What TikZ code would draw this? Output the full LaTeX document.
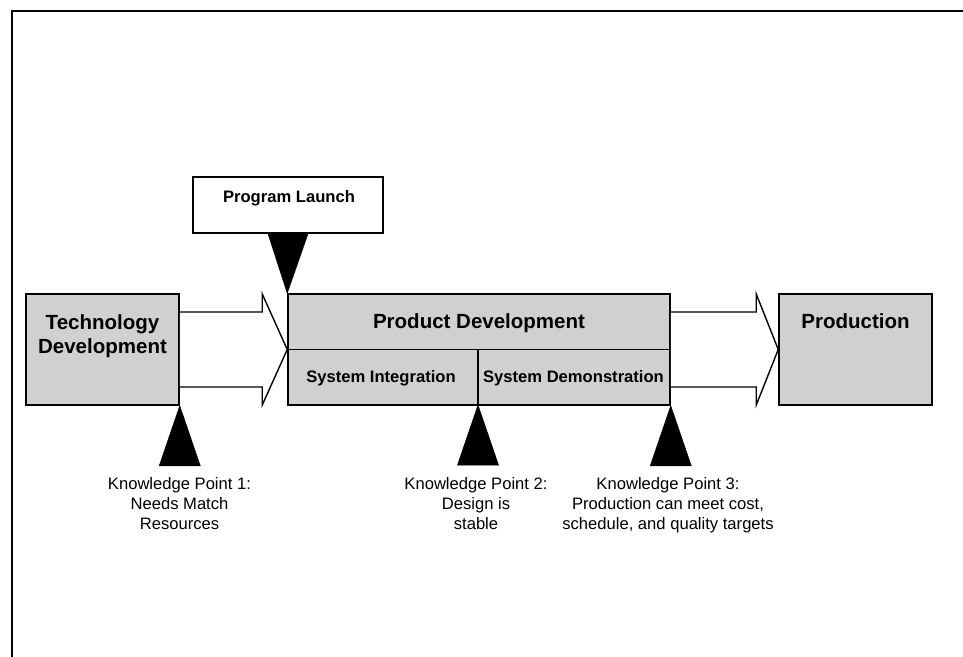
\documentclass[tikz,border=0pt]{standalone}
\usepackage{fontspec}
\setmainfont{Liberation Sans}
\usetikzlibrary{calc}
\definecolor{boxgray}{RGB}{208,208,208}
\begin{document}
\begin{tikzpicture}[x=1pt,y=-1pt,
  box/.style={draw=black,line width=1.5pt,fill=boxgray,rectangle,inner sep=0pt},
  bigtxt/.style={font=\fontsize{20.5}{24}\selectfont\bfseries,align=center,inner sep=0pt,anchor=north},
  smalltxt/.style={font=\fontsize{16.6}{19.5}\selectfont\bfseries,inner sep=0pt,anchor=base},
  kptxt/.style={font=\fontsize{16.6}{20}\selectfont,align=center,inner sep=0pt,anchor=north},
  blockarrow/.style={draw=black,line width=1.4pt,fill=white,line join=miter},
  tri/.style={fill=black,draw=black,line width=0.5pt}]
\useasboundingbox (0,0) rectangle (963,656);
% frame
\draw[line width=2pt] (12,660) -- (12,11) -- (966,11);
% boxes
\node[box,minimum width=153pt,minimum height=111pt] (tech) at (102.5,349.5) {};
\node[box,minimum width=382pt,minimum height=111pt] (pd) at (479,349.5) {};
\node[box,minimum width=153pt,minimum height=111pt] (prod) at (855.5,349.5) {};
\node[draw=black,line width=1.5pt,fill=white,rectangle,inner sep=0pt,minimum width=190pt,minimum height=56pt] (pl) at (288,205) {};
% divider lines in product development
\coordinate (divL) at (pd.west);
\coordinate (divR) at (pd.east);
\draw[line width=1.6pt] (divL) -- (divR);
\coordinate (sepT) at (478,349.5);
\coordinate (sepB) at (478,405);
\draw[line width=1.6pt] (sepT) -- (sepB);
% texts
\node[bigtxt] (techtxt) at (102.5,314) {Technology\\Development};
\node[bigtxt] (pdtxt) at (479,313) {Product Development};
\node[bigtxt] (prodtxt) at (855.5,313) {Production};
\node[smalltxt] (sitxt) at (381,382) {System Integration};
\node[smalltxt] (sdtxt) at (573.5,382) {System Demonstration};
\node[smalltxt] (pltxt) at (289,202) {Program Launch};
% block arrows
\draw[blockarrow] ($(tech.east)+(0,-37.5)$) -- ($(pd.west)+(-25,-37.5)$) -- ($(pd.west)+(-25,-55.5)$)
  -- (pd.west) -- ($(pd.west)+(-25,55.5)$) -- ($(pd.west)+(-25,37.5)$) -- ($(tech.east)+(0,37.5)$);
\draw[blockarrow] ($(pd.east)+(0,-37.5)$) -- ($(prod.west)+(-22,-37.5)$) -- ($(prod.west)+(-22,-55.5)$)
  -- (prod.west) -- ($(prod.west)+(-22,55.5)$) -- ($(prod.west)+(-22,37.5)$) -- ($(pd.east)+(0,37.5)$);
% program launch triangle
\draw[tri] ($(pl.south)+(-20,0)$) -- ($(pl.south)+(20,0)$) -- (pd.north west) -- cycle;
% knowledge point triangles
\draw[tri] (tech.south east) -- ($(tech.south east)+(20.5,60)$) -- ($(tech.south east)+(-20.5,60)$) -- cycle;
\draw[tri] (sepB) -- ($(sepB)+(20.5,60)$) -- ($(sepB)+(-20.5,60)$) -- cycle;
\draw[tri] (pd.south east) -- ($(pd.south east)+(20.5,60)$) -- ($(pd.south east)+(-20.5,60)$) -- cycle;
% knowledge point texts
\node[kptxt] (kp1) at (179.5,477.5) {Knowledge Point 1:\\Needs Match\\Resources};
\node[kptxt] (kp2) at (476,477.5) {Knowledge Point 2:\\Design is\\stable};
\node[kptxt] (kp3) at (668,477.5) {Knowledge Point 3:\\Production can meet cost,\\schedule, and quality targets};
\end{tikzpicture}
\end{document}
